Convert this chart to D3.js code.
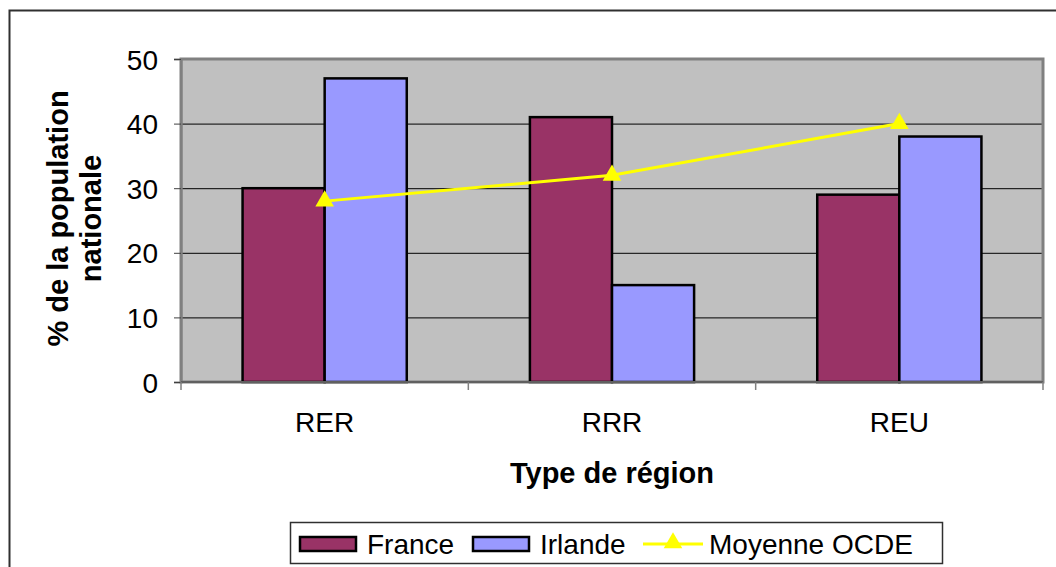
<!DOCTYPE html>
<html>
<head>
<meta charset="utf-8">
<style>
body { margin: 0; background: #fff; }
text { font-family: "Liberation Sans", Arial, sans-serif; fill: #000; }
.tick text { font-size: 28px; }
.axis-title { font-size: 29px; font-weight: bold; }
.legend text { font-size: 28px; }
</style>
</head>
<body>
<svg width="1056" height="567"></svg>
<script src="https://cdnjs.cloudflare.com/ajax/libs/d3/7.8.5/d3.min.js"></script>
<script>

var categories = ["RER", "RRR", "REU"];
var france = [30, 41, 29];
var irlande = [47, 15, 38];
var ocde = [28, 32, 40];
var yTicks = [0, 10, 20, 30, 40, 50];

var svg = d3.select("svg");

// outer chart border (runs off the bottom/right)
svg.append("rect")
    .attr("x", 9.5).attr("y", 10.5)
    .attr("width", 1060).attr("height", 600)
    .attr("fill", "#fff")
    .attr("stroke", "#303030")
    .attr("stroke-width", 2);

var pLeft = 181, pTop = 59, pRight = 1043, pBottom = 382;

var x = d3.scaleBand().domain(categories).range([pLeft, pRight]);
var y = d3.scaleLinear().domain([0, 50]).range([pBottom, pTop]);

var bw = x.bandwidth() / 3.5;

// plot background
svg.append("rect")
    .attr("x", pLeft).attr("y", pTop)
    .attr("width", pRight - pLeft).attr("height", pBottom - pTop)
    .attr("fill", "#c0c0c0");

// gridlines
svg.append("g").selectAll("line")
    .data(yTicks.slice(1))
    .enter().append("line")
    .attr("x1", pLeft).attr("x2", pRight)
    .attr("y1", function(d) { return y(d) + 0.5; })
    .attr("y2", function(d) { return y(d) + 0.5; })
    .attr("stroke", "#000").attr("stroke-width", 1);

// plot border
svg.append("rect")
    .attr("x", pLeft).attr("y", pTop)
    .attr("width", pRight - pLeft).attr("height", pBottom - pTop)
    .attr("fill", "none")
    .attr("stroke", "#808080")
    .attr("stroke-width", 3);

// bars
var series = [
  { name: "France", values: france, color: "#993366" },
  { name: "Irlande", values: irlande, color: "#9999ff" }
];

series.forEach(function(s, si) {
  svg.append("g").selectAll("rect")
    .data(s.values)
    .enter().append("rect")
    .attr("x", function(d, i) { return x(categories[i]) + bw * 0.75 + si * bw; })
    .attr("y", function(d) { return y(d); })
    .attr("width", bw)
    .attr("height", function(d) { return y(0) - y(d); })
    .attr("fill", s.color)
    .attr("stroke", "#000")
    .attr("stroke-width", 2.5);
});

// y axis
var yAxis = svg.append("g")
    .attr("transform", "translate(" + pLeft + ",0)")
    .call(d3.axisLeft(y).tickValues(yTicks).tickSize(7).tickPadding(16));
yAxis.select(".domain").attr("stroke", "#808080").attr("stroke-width", 2);
yAxis.selectAll(".tick line").attr("stroke", "#404040");
yAxis.selectAll(".tick text").attr("dy", "0.36em").attr("font-size", null);
yAxis.attr("font-size", null).attr("font-family", null);

// x axis
var xAxis = svg.append("g")
    .attr("transform", "translate(0," + pBottom + ")");
xAxis.append("line")
    .attr("x1", pLeft).attr("x2", pRight)
    .attr("stroke", "#606060").attr("stroke-width", 2);
xAxis.selectAll("line.tk")
    .data(categories.concat(["end"]))
    .enter().append("line")
    .attr("class", "tk")
    .attr("x1", function(d, i) { return i < categories.length ? x(d) : pRight; })
    .attr("x2", function(d, i) { return i < categories.length ? x(d) : pRight; })
    .attr("y1", 0).attr("y2", 8)
    .attr("stroke", "#808080").attr("stroke-width", 1.5);
xAxis.selectAll("text")
    .data(categories)
    .enter().append("text")
    .attr("x", function(d) { return x(d) + x.bandwidth() / 2; })
    .attr("y", 50)
    .attr("text-anchor", "middle")
    .style("font-size", "28px")
    .text(function(d) { return d; });

// OCDE line
var lineGen = d3.line()
    .x(function(d, i) { return x(categories[i]) + x.bandwidth() / 2; })
    .y(function(d) { return y(d); });

svg.append("path")
    .datum(ocde)
    .attr("d", lineGen)
    .attr("fill", "none")
    .attr("stroke", "#ffff00")
    .attr("stroke-width", 3);

var tri = d3.symbol().type(d3.symbolTriangle).size(150);
svg.append("g").selectAll("path")
    .data(ocde)
    .enter().append("path")
    .attr("d", tri)
    .attr("transform", function(d, i) {
      return "translate(" + (x(categories[i]) + x.bandwidth() / 2) + "," + y(d) + ")";
    })
    .attr("fill", "#ffff00");

// axis titles
svg.append("text")
    .attr("class", "axis-title")
    .attr("x", (pLeft + pRight) / 2)
    .attr("y", 483)
    .attr("text-anchor", "middle")
    .text("Type de région");

var yt = svg.append("text")
    .attr("class", "axis-title")
    .attr("transform", "translate(68," + ((pTop + pBottom) / 2 - 2) + ") rotate(-90)")
    .attr("text-anchor", "middle");
yt.append("tspan").attr("x", 0).attr("dy", 0).text("% de la population");
yt.append("tspan").attr("x", 0).attr("dy", 33).text("nationale");

// legend
var lg = svg.append("g").attr("class", "legend");
lg.append("rect")
    .attr("x", 290.5).attr("y", 522.5)
    .attr("width", 652).attr("height", 41)
    .attr("fill", "#fff")
    .attr("stroke", "#303030").attr("stroke-width", 1.5);

var legendItems = [
  { name: "France", type: "bar", color: "#993366", x: 300, tx: 367 },
  { name: "Irlande", type: "bar", color: "#9999ff", x: 473, tx: 540 },
  { name: "Moyenne OCDE", type: "line", color: "#ffff00", x: 643, tx: 709 }
];

legendItems.forEach(function(it) {
  if (it.type === "bar") {
    lg.append("rect")
      .attr("x", it.x).attr("y", 537)
      .attr("width", 56).attr("height", 14)
      .attr("fill", it.color)
      .attr("stroke", "#000").attr("stroke-width", 2.5);
  } else {
    lg.append("line")
      .attr("x1", it.x).attr("x2", it.x + 60)
      .attr("y1", 544).attr("y2", 544)
      .attr("stroke", it.color).attr("stroke-width", 3);
    lg.append("path")
      .attr("d", tri)
      .attr("transform", "translate(" + (it.x + 30) + ",543)")
      .attr("fill", it.color);
  }
  lg.append("text")
    .attr("x", it.tx).attr("y", 554)
    .text(it.name);
});

</script>
</body>
</html>
